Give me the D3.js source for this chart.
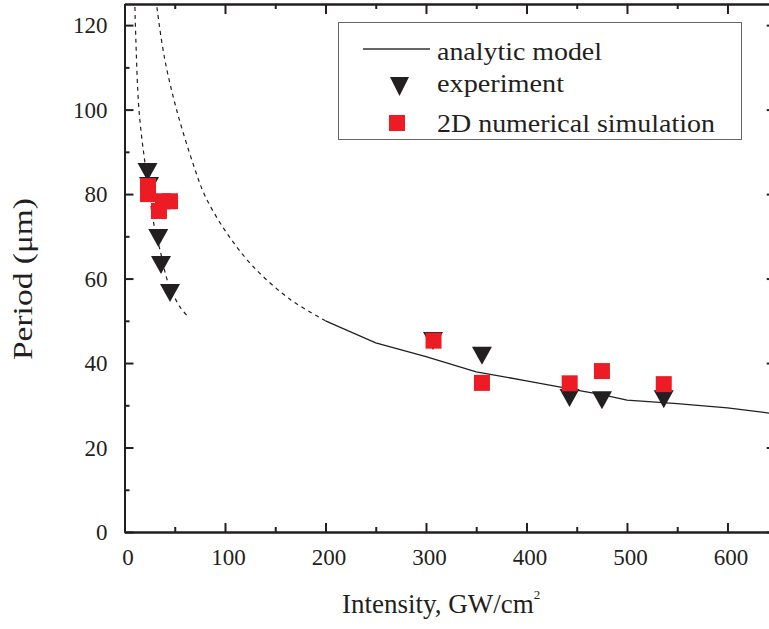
<!DOCTYPE html>
<html>
<head>
<meta charset="utf-8">
<script src="https://cdn.jsdelivr.net/npm/d3@7"></script>
<style>
  html, body { margin: 0; padding: 0; background: #fff; }
  svg { display: block; }
  text { font-family: "Liberation Serif", "Times New Roman", serif; fill: #231f20; }
</style>
</head>
<body>
<svg id="chart" width="769" height="629"></svg>
<script>
// ---- data ----
const xTicks = [0, 100, 200, 300, 400, 500, 600];
const xMinorTicks = [50, 150, 250, 350, 450, 550];
const yTicks = [0, 20, 40, 60, 80, 100, 120];
const yMinorTicks = [10, 30, 50, 70, 90, 110];

// experiment (triangles): intensity, period
const expX = [22.9, 24.4, 33.6, 36.3, 45.3, 307, 355.7, 442.8, 475.1, 536.6];
const expY = [85.2, 81.9, 69.6, 63.2, 56.6, 45.2, 41.7, 31.7, 31.2, 31.4];

// 2D numerical simulation (squares)
const simX = [23.4, 23.4, 38.3, 45.3, 34.3, 307.5, 355.7, 443, 475.1, 536.6];
const simY = [81.9, 80.0, 78.3, 78.3, 76.0, 45.3, 35.3, 35.2, 38.1, 35.0];

// analytic model (solid)
const modelX = [200, 250, 300, 350, 400, 450, 475, 500, 550, 600, 650];
const modelY = [50, 44.8, 41.5, 37.9, 35.8, 33.6, 32.5, 31.2, 30.4, 29.4, 27.9];

// dashed extrapolations
const dashAX = [10.0, 10.4, 11.1, 14.4, 20.4, 30.3, 35.3, 43.6, 55.2, 63.5];
const dashAY = [130, 124, 118, 100, 87.3, 71.5, 66.8, 58.9, 53.3, 50.9];
const dashBX = [30.5, 32.6, 40.0, 51.9, 68.5, 80.1, 101.7, 128.2, 164.7, 200];
const dashBY = [128, 123.6, 112, 99.9, 87.0, 79.6, 70.8, 62.8, 55.1, 50];

const legendLabels = ["analytic model", "experiment", "2D numerical simulation"];

// ---- layout ----
const svg = d3.select("#chart");
const L = 124.5, R = 775.7, T = 4, B = 532;
const x = d3.scaleLinear().domain([0, 648]).range([L, R]);
const y = d3.scaleLinear().domain([0, 125]).range([B, T]);
const ink = "#231f20";

svg.append("defs").append("clipPath").attr("id", "clip")
  .append("rect").attr("x", L).attr("y", T).attr("width", R - L).attr("height", B - T);

function styleAxis(g) {
  g.select(".domain").attr("stroke", ink).attr("stroke-width", 2);
  g.selectAll(".tick line").attr("stroke", ink).attr("stroke-width", 2);
}

// minor ticks
svg.append("g").attr("transform", `translate(0,${B})`)
  .call(d3.axisBottom(x).tickValues(xMinorTicks).tickSizeInner(-5).tickSizeOuter(0).tickFormat(""))
  .call(styleAxis);
svg.append("g").attr("transform", `translate(0,${T})`)
  .call(d3.axisTop(x).tickValues(xMinorTicks).tickSizeInner(-5).tickSizeOuter(0).tickFormat(""))
  .call(styleAxis);
svg.append("g").attr("transform", `translate(${L},0)`)
  .call(d3.axisLeft(y).tickValues(yMinorTicks).tickSizeInner(-5).tickSizeOuter(0).tickFormat(""))
  .call(styleAxis);
svg.append("g").attr("transform", `translate(${R},0)`)
  .call(d3.axisRight(y).tickValues(yMinorTicks).tickSizeInner(-5).tickSizeOuter(0).tickFormat(""))
  .call(styleAxis);

// major axes
const gx = svg.append("g").attr("transform", `translate(0,${B})`)
  .call(d3.axisBottom(x).tickValues(xTicks).tickSizeInner(-9).tickSizeOuter(0).tickFormat(d3.format("d")))
  .call(styleAxis);
gx.selectAll(".tick text").attr("y", 33).attr("dy", 0).attr("x", 3)
  .attr("font-size", 23).attr("font-family", "Liberation Serif").attr("fill", ink);

svg.append("g").attr("transform", `translate(0,${T})`)
  .call(d3.axisTop(x).tickValues(xTicks).tickSizeInner(-10).tickSizeOuter(0).tickFormat(""))
  .call(styleAxis);

const gy = svg.append("g").attr("transform", `translate(${L},0)`)
  .call(d3.axisLeft(y).tickValues(yTicks).tickSizeInner(-9).tickSizeOuter(0).tickFormat(d3.format("d")))
  .call(styleAxis);
gy.selectAll(".tick text").attr("x", -17).attr("dy", "0.33em")
  .attr("font-size", 23).attr("font-family", "Liberation Serif").attr("fill", ink);

svg.append("g").attr("transform", `translate(${R},0)`)
  .call(d3.axisRight(y).tickValues(yTicks).tickSizeInner(-9).tickSizeOuter(0).tickFormat(""))
  .call(styleAxis);

// ---- lines ----
const plot = svg.append("g").attr("clip-path", "url(#clip)");
const line = d3.line().x(d => x(d[0])).y(d => y(d[1]));
const smooth = d3.line().x(d => x(d[0])).y(d => y(d[1])).curve(d3.curveCatmullRom.alpha(0.5));

plot.append("path").datum(d3.zip(dashAX, dashAY)).attr("d", smooth)
  .attr("fill", "none").attr("stroke", ink).attr("stroke-width", 1.2).attr("stroke-dasharray", "4,4");
plot.append("path").datum(d3.zip(dashBX, dashBY)).attr("d", smooth)
  .attr("fill", "none").attr("stroke", ink).attr("stroke-width", 1.2).attr("stroke-dasharray", "4,4");
plot.append("path").datum(d3.zip(modelX, modelY)).attr("d", line)
  .attr("fill", "none").attr("stroke", ink).attr("stroke-width", 1.3);

// ---- markers ----
const triW = 20, triH = 18, sq = 16;
function triPath(cx, cy) {
  return `M${cx - triW / 2},${cy - triH / 2}L${cx + triW / 2},${cy - triH / 2}L${cx},${cy + triH / 2}Z`;
}
svg.append("g").selectAll("path").data(d3.zip(expX, expY)).join("path")
  .attr("d", d => triPath(x(d[0]), y(d[1]))).attr("fill", ink);
svg.append("g").selectAll("rect").data(d3.zip(simX, simY)).join("rect")
  .attr("x", d => x(d[0]) - sq / 2).attr("y", d => y(d[1]) - sq / 2)
  .attr("width", sq).attr("height", sq).attr("fill", "#ed1c24");

// ---- legend ----
const lg = svg.append("g");
lg.append("rect").attr("x", 338.5).attr("y", 22.5).attr("width", 403).attr("height", 117)
  .attr("fill", "#fff").attr("stroke", "#666").attr("stroke-width", 1);
lg.append("line").attr("x1", 363).attr("x2", 430).attr("y1", 49).attr("y2", 49)
  .attr("stroke", "#333").attr("stroke-width", 1.3);
lg.append("path").attr("d", `M390,77L409,77L399.5,96Z`).attr("fill", ink);
lg.append("rect").attr("x", 389).attr("y", 115).attr("width", 16).attr("height", 16).attr("fill", "#ed1c24");
const lgBase = [60, 92, 132];
const lgLen = [165, 127, 278];
legendLabels.forEach((t, i) => {
  lg.append("text").attr("x", 437).attr("y", lgBase[i]).attr("font-size", 26)
    .attr("textLength", lgLen[i]).attr("lengthAdjust", "spacingAndGlyphs").text(t);
});

// ---- axis titles ----
const xt = svg.append("text").attr("x", 342).attr("y", 613).attr("font-size", 27);
xt.append("tspan").text("Intensity, GW/cm");
xt.append("tspan").attr("font-size", 13).attr("dy", -14).text("2");

svg.append("text").attr("transform", "translate(32,279) rotate(-90)")
  .attr("text-anchor", "middle").attr("font-size", 27)
  .attr("textLength", 162).attr("lengthAdjust", "spacingAndGlyphs")
  .text("Period (\u03bcm)");
</script>
</body>
</html>
